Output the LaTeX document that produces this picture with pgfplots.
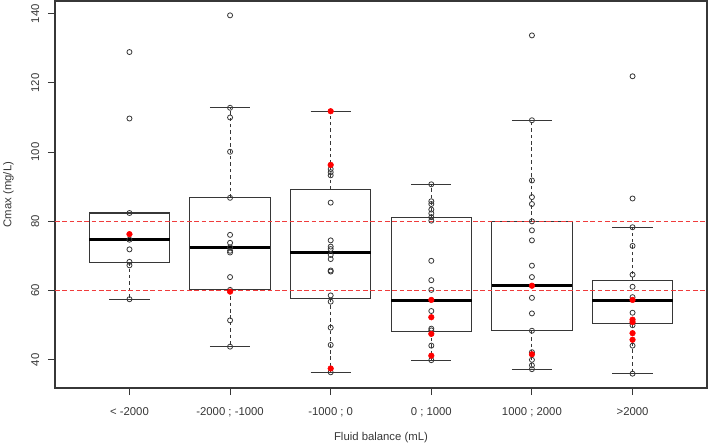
\documentclass[border=0pt]{standalone}
\usepackage{fontspec}
\setmainfont{Liberation Sans}
\usepackage{pgfplots}
\pgfplotsset{compat=1.18}
\usepgfplotslibrary{statistics}
\definecolor{boxc}{RGB}{55,55,55}
\definecolor{refred}{RGB}{240,60,60}
\newcommand{\lblfont}{\fontsize{8.5}{10}\selectfont}
\pgfplotsset{
  /pgfplots/boxplot/draw/lower whisker/.code={%
    \draw[/pgfplots/boxplot/every whisker/.try, dash pattern=on 2.6pt off 2.2pt]
      (boxplot cs:\pgfplotsboxplotvalue{lower quartile})
      -- (boxplot cs:\pgfplotsboxplotvalue{lower whisker});
    \draw[/pgfplots/boxplot/every whisker/.try]
      (boxplot whisker cs:\pgfplotsboxplotvalue{lower whisker},0)
      -- (boxplot whisker cs:\pgfplotsboxplotvalue{lower whisker},1);
  },
  /pgfplots/boxplot/draw/upper whisker/.code={%
    \draw[/pgfplots/boxplot/every whisker/.try, dash pattern=on 2.6pt off 2.2pt]
      (boxplot cs:\pgfplotsboxplotvalue{upper quartile})
      -- (boxplot cs:\pgfplotsboxplotvalue{upper whisker});
    \draw[/pgfplots/boxplot/every whisker/.try]
      (boxplot whisker cs:\pgfplotsboxplotvalue{upper whisker},0)
      -- (boxplot whisker cs:\pgfplotsboxplotvalue{upper whisker},1);
  },
  mybox/.style={boxc, line width=0.8pt,
    boxplot/box extend=0.8, boxplot/whisker extend=0.4,
    boxplot/every median/.style={black, line width=2.3pt}},
  refline/.style={draw=refred, line width=1pt, dash pattern=on 3.5pt off 2pt, mark=none, forget plot},
}
\begin{document}
\begin{tikzpicture}
\begin{axis}[
  scale only axis, width=489pt, height=290.25pt,
  boxplot/draw direction=y,
  xmin=0.26, xmax=6.74, ymin=31.86, ymax=143.64,
  xtick={1,2,3,4,5,6},
  xticklabels={{< -2000},{-2000 ; -1000},{-1000 ; 0},{0 ; 1000},{1000 ; 2000},{>2000}},
  ytick={40,60,80,100,120,140},
  tick pos=left, tick align=outside, major tick length=5.25pt,
  axis line style={boxc, line width=0.8pt},
  tick style={boxc, line width=0.8pt},
  tick label style={font=\lblfont, text=boxc},
  /pgf/number format/assume math mode=true,
  yticklabel style={rotate=90, anchor=south, yshift=3pt},
  xticklabel style={anchor=base, yshift=-15pt},
  label style={font=\lblfont, text=boxc},
  xlabel={Fluid balance (mL)}, ylabel={Cmax (mg/L)},
  xlabel style={at={(axis description cs:0.5,0)}, anchor=center, yshift=-37.5pt},
  ylabel style={at={([xshift=-35pt]axis description cs:0,0.5)}, anchor=center},
]
\coordinate (sw) at (rel axis cs:0,0);
\coordinate (ne) at (rel axis cs:1,1);
% boxes
\addplot[mybox, boxplot prepared={lower whisker=57.5, lower quartile=68.2, median=74.7, upper quartile=82.4, upper whisker=82.4, draw position=1}] coordinates {};
\addplot[mybox, boxplot prepared={lower whisker=43.8, lower quartile=60.2, median=72.5, upper quartile=86.8, upper whisker=112.8, draw position=2}] coordinates {};
\addplot[mybox, boxplot prepared={lower whisker=36.4, lower quartile=57.6, median=70.9, upper quartile=89.2, upper whisker=111.8, draw position=3}] coordinates {};
\addplot[mybox, boxplot prepared={lower whisker=39.9, lower quartile=48.2, median=57.1, upper quartile=81.1, upper whisker=90.7, draw position=4}] coordinates {};
\addplot[mybox, boxplot prepared={lower whisker=37.1, lower quartile=48.4, median=61.4, upper quartile=80.0, upper whisker=109.2, draw position=5}] coordinates {};
\addplot[mybox, boxplot prepared={lower whisker=36.0, lower quartile=50.4, median=57.1, upper quartile=62.8, upper whisker=78.3, draw position=6}] coordinates {};
% reference lines
\addplot[refline] coordinates {(0.26,80) (6.74,80)};
\addplot[refline] coordinates {(0.26,60) (6.74,60)};
% open points
\addplot[only marks, mark=o, mark size=1.9pt, mark options={boxc, line width=0.6pt}] coordinates {
(1,128.9) (1,109.7) (1,82.4) (1,74.7) (1,71.9) (1,68.3) (1,67.3) (1,57.5)
(2,139.5) (2,112.8) (2,110.0) (2,100.1) (2,86.8) (2,76.1) (2,73.8) (2,72.5) (2,71.5) (2,71.0) (2,63.9) (2,60.2) (2,51.4) (2,43.8)
(3,95.1) (3,94.2) (3,93.3) (3,85.4) (3,74.5) (3,72.7) (3,72.0) (3,70.3) (3,69.1) (3,65.8) (3,65.5) (3,58.6) (3,56.8) (3,49.3) (3,44.3) (3,36.4)
(4,90.7) (4,85.8) (4,85.0) (4,83.4) (4,82.3) (4,81.2) (4,80.2) (4,68.6) (4,63.0) (4,60.2) (4,54.1) (4,49.0) (4,48.5) (4,44.1) (4,39.9)
(5,133.7) (5,109.2) (5,91.8) (5,87.0) (5,85.0) (5,80.0) (5,77.4) (5,74.5) (5,67.2) (5,63.9) (5,57.9) (5,53.4) (5,48.4) (5,42.2) (5,40.0) (5,38.4) (5,37.3)
(6,121.9) (6,86.6) (6,78.3) (6,72.9) (6,64.6) (6,61.1) (6,58.1) (6,53.6) (6,50.0) (6,44.1) (6,36.0)
};
% red points
\addplot[only marks, mark=*, mark size=2.1pt, mark options={fill=red, draw=red}] coordinates {
(1,76.3)
(2,59.7)
(3,111.8) (3,96.3) (3,37.5)
(4,57.3) (4,52.3) (4,47.5) (4,41.2)
(5,61.4) (5,41.6)
(6,57.3) (6,51.6) (6,50.9) (6,47.7) (6,45.8)
};
\end{axis}
\pgfresetboundingbox
\path[use as bounding box] ([shift={(-41.25pt,-44.25pt)}]sw) rectangle ([shift={(1.5pt,0.75pt)}]ne);
\end{tikzpicture}
\end{document}
